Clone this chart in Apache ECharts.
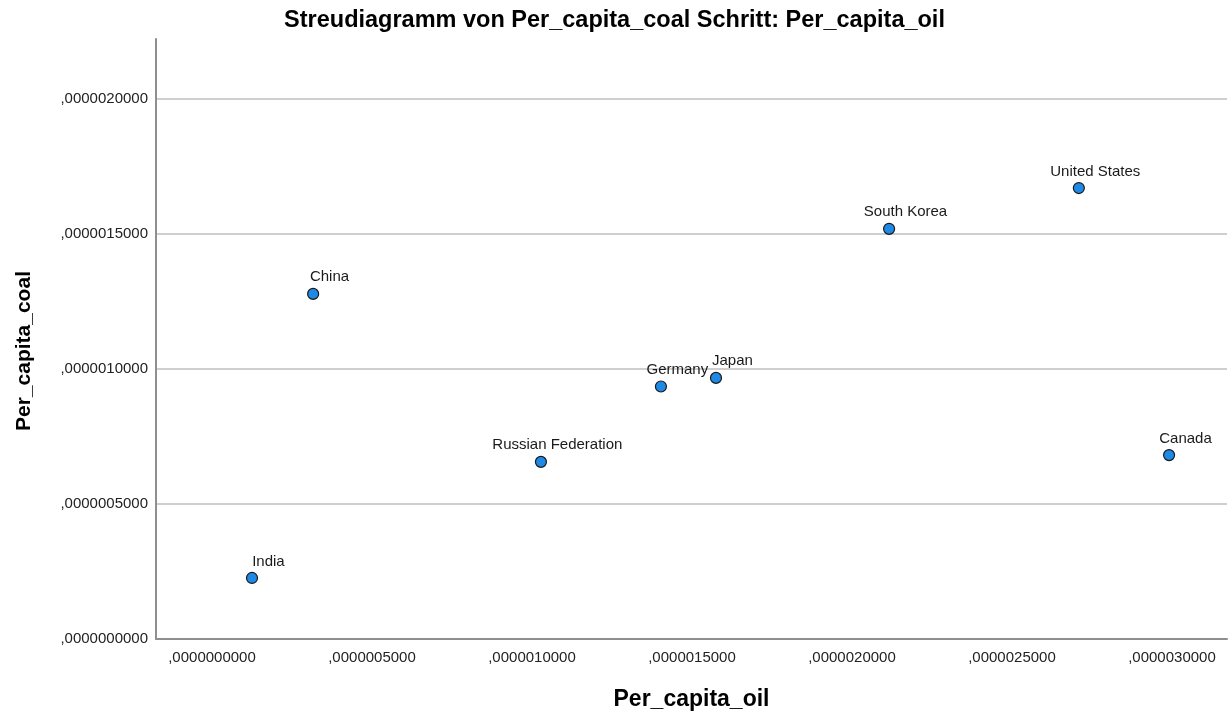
<!DOCTYPE html>
<html>
<head>
<meta charset="utf-8">
<script src="https://cdn.jsdelivr.net/npm/echarts@6/dist/echarts.min.js"></script>
<style>
html,body{margin:0;padding:0;background:#fff;}
#chart{width:1229px;height:716px;}
</style>
</head>
<body>
<div id="chart"></div>
<script>
const countries = ['India','China','Russian Federation','Germany','Japan','South Korea','United States','Canada'];
const perCapitaOil = [1.25e-7, 3.16e-7, 1.028e-6, 1.403e-6, 1.575e-6, 2.116e-6, 2.709e-6, 2.991e-6];
const perCapitaCoal = [2.26e-7, 1.278e-6, 6.56e-7, 9.35e-7, 9.67e-7, 1.519e-6, 1.670e-6, 6.81e-7];
const xTicks = [0, 5e-7, 1e-6, 1.5e-6, 2e-6, 2.5e-6, 3e-6];
const yTicks = [0, 5e-7, 1e-6, 1.5e-6, 2e-6];
const titleText = 'Streudiagramm von Per_capita_coal Schritt: Per_capita_oil';
const xName = 'Per_capita_oil';
const yName = 'Per_capita_coal';

function fmt(v){
  return (Math.round(v*1e10)/1e10).toFixed(10).replace(/^0\./, ',');
}

const points = countries.map((c,i)=>({name:c, value:[perCapitaOil[i], perCapitaCoal[i]]}));
const FONT = "'Liberation Sans', Arial, sans-serif";

const chart = echarts.init(document.getElementById('chart'));
chart.setOption({
  animation:false,
  backgroundColor:'#ffffff',
  textStyle:{fontFamily:FONT},
  title:{
    text:titleText, left:'center', top:4,
    textStyle:{fontFamily:FONT, fontSize:23.5, fontWeight:'bold', color:'#000'}
  },
  grid:{left:156, right:2, top:39, bottom:77, containLabel:false},
  xAxis:{
    type:'value', min:-1.75e-7, max:3.172e-6,
    name:xName, nameLocation:'middle', nameGap:49,
    nameTextStyle:{fontFamily:FONT, fontSize:23, fontWeight:'bold', color:'#000'},
    axisLine:{show:true, onZero:false, lineStyle:{color:'#8f8f8f', width:2}},
    axisTick:{show:false, customValues:xTicks},
    splitLine:{show:false},
    axisLabel:{customValues:xTicks, formatter:fmt, fontFamily:FONT, fontSize:15, color:'#222', margin:11}
  },
  yAxis:{
    type:'value', min:0, max:2.222e-6,
    name:yName, nameLocation:'middle', nameGap:121, nameRotate:90,
    nameTextStyle:{fontFamily:FONT, fontSize:21, fontWeight:'bold', color:'#000', padding:[0,24,0,0]},
    axisLine:{show:true, onZero:false, lineStyle:{color:'#8f8f8f', width:2}},
    axisTick:{show:false, customValues:yTicks},
    splitLine:{show:true, lineStyle:{color:'#cfcfcf', width:2}},
    axisLabel:{customValues:yTicks, formatter:fmt, fontFamily:FONT, fontSize:15, color:'#222', margin:8}
  },
  series:[{
    type:'scatter',
    data:points,
    symbol:'circle', symbolSize:11,
    itemStyle:{color:'#1e8ae6', borderColor:'#1a1a1a', borderWidth:1.2, opacity:1},
    label:{
      show:true, position:[22.5,-10.5],
      formatter:p=>p.name, fontFamily:FONT, fontSize:15, color:'#1a1a1a',
      align:'center', verticalAlign:'middle'
    },
    labelLayout:{hideOverlap:false}
  }]
});
</script>
</body>
</html>
